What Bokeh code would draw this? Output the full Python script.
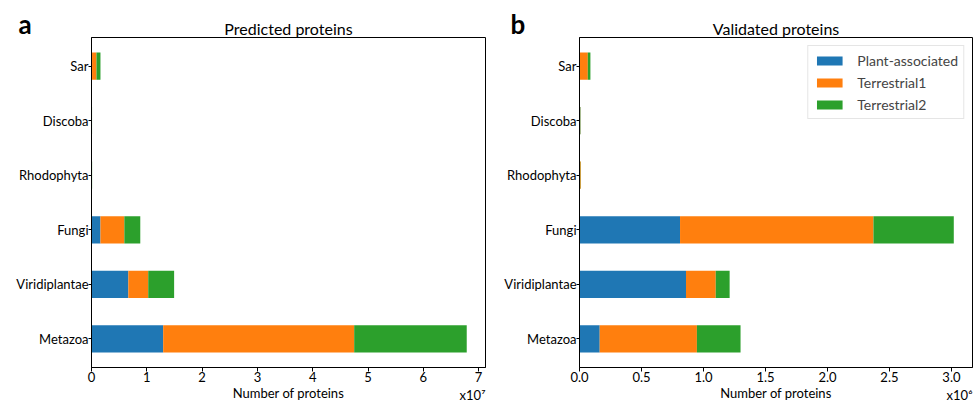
from bokeh.plotting import figure
from bokeh.models import (ColumnDataSource, Range1d, FixedTicker, Label, Legend,
                          LegendItem, Title)
from bokeh.layouts import row
from bokeh.embed import file_html
from bokeh.resources import INLINE

categories = ["Metazoa", "Viridiplantae", "Fungi", "Rhodophyta", "Discoba", "Sar"]
series = ["Plant-associated", "Terrestrial1", "Terrestrial2"]
colors = ["#1f77b4", "#ff7f0e", "#2ca02c"]

pred_plant = [12960000, 6660000, 1620000, 50000, 30000, 100000]
pred_terr1 = [34540000, 3600000, 4320000, 30000, 20000, 800000]
pred_terr2 = [20350000, 4680000, 2880000, 30000, 50000, 720000]

val_plant = [163000, 859000, 811000, 2000, 6000, 4000]
val_terr1 = [784000, 240000, 1560000, 8000, 2000, 63000]
val_terr2 = [352000, 112000, 648000, 2000, 2000, 21000]

pred_ticks = [0, 10000000, 20000000, 30000000, 40000000, 50000000, 60000000, 70000000]
pred_tick_labels = ["0", "1", "2", "3", "4", "5", "6", "7"]
val_ticks = [0, 500000, 1000000, 1500000, 2000000, 2500000, 3000000]
val_tick_labels = ["0.0", "0.5", "1.0", "1.5", "2.0", "2.5", "3.0"]

FONT = "Lato"


def make_panel(title, letter, plant, t1, t2, ticks, tick_labels, mult, width,
               bl, br, letter_dx, legend):
    ypos = list(range(len(categories)))
    src = ColumnDataSource(dict(y=ypos, cat=categories, s0=plant, s1=t1, s2=t2))
    totals = [a + b + c for a, b, c in zip(plant, t1, t2)]
    xmax = max(totals) * 1.05
    p = figure(width=width, height=403, output_backend="svg", toolbar_location=None,
               x_range=Range1d(0, xmax), y_range=Range1d(-0.525, len(categories) - 1 + 0.525),
               min_border_left=bl, min_border_right=br, min_border_top=33,
               min_border_bottom=31, title=None)
    p.add_layout(Title(text=title, align="center", text_font=FONT, text_font_size="16px",
                       text_font_style="normal", text_color="black", standoff=0), "above")
    rs = p.hbar_stack(["s0", "s1", "s2"], y="y", height=0.5, source=src,
                      color=colors, line_color=None)
    p.grid.visible = False
    p.outline_line_color = "black"
    p.outline_line_width = 1
    p.xaxis.ticker = FixedTicker(ticks=ticks)
    p.xaxis.major_label_overrides = {t: l for t, l in zip(ticks, tick_labels)}
    p.yaxis.ticker = FixedTicker(ticks=ypos)
    p.yaxis.major_label_overrides = {i: c for i, c in zip(ypos, categories)}
    p.xaxis.axis_label = "Number of proteins"
    for ax in (p.xaxis, p.yaxis):
        ax.axis_line_color = "black"
        ax.major_tick_line_color = "black"
        ax.minor_tick_line_color = None
        ax.major_tick_in = 0
        ax.major_tick_out = 4
        ax.major_label_text_font = FONT
        ax.major_label_text_font_size = "13px"
        ax.major_label_text_color = "black"
        ax.major_label_standoff = 0
        ax.axis_label_text_font = FONT
        ax.axis_label_text_font_size = "13px"
        ax.axis_label_text_font_style = "normal"
        ax.axis_label_text_color = "black"
        ax.axis_label_standoff = 0
    p.yaxis.major_tick_out = 3
    # panel letter (registered in the left side panel, positioned from the frame)
    p.add_layout(Label(x=0, y=len(categories) - 1 + 0.525, x_offset=letter_dx, y_offset=14,
                       text=letter, text_font=FONT, text_font_size="26px",
                       text_font_style="bold", text_baseline="alphabetic",
                       text_color="black"), "left")
    # scale multiplier (registered in the above panel, drawn below the x axis)
    p.add_layout(Label(x=xmax, y=-0.525, y_offset=-27, text=mult, text_align="right",
                       text_baseline="middle", text_font=FONT, text_font_size="13px",
                       text_color="black"), "above")
    if legend:
        lg = Legend(items=[LegendItem(label=s, renderers=[r]) for s, r in zip(series, rs)],
                    location="top_right")
        lg.label_text_font = FONT
        lg.label_text_font_size = "14px"
        lg.glyph_width = 32
        lg.glyph_height = 11
        lg.label_standoff = 12
        lg.label_height = 18
        lg.spacing = 4
        lg.padding = 5
        lg.margin = 8
        lg.border_line_color = "#cccccc"
        lg.background_fill_alpha = 0.8
        p.add_layout(lg)
    return p


left = make_panel("Predicted proteins", "a", pred_plant, pred_terr1, pred_terr2,
                  pred_ticks, pred_tick_labels, "x10⁷", 486, 91, 1, -73, False)
right = make_panel("Validated proteins", "b", val_plant, val_terr1, val_terr2,
                   val_ticks, val_tick_labels, "x10⁶", 487, 90, 1, -69, True)

layout = row(left, right)
open("out.html", "w").write(file_html(layout, INLINE))
